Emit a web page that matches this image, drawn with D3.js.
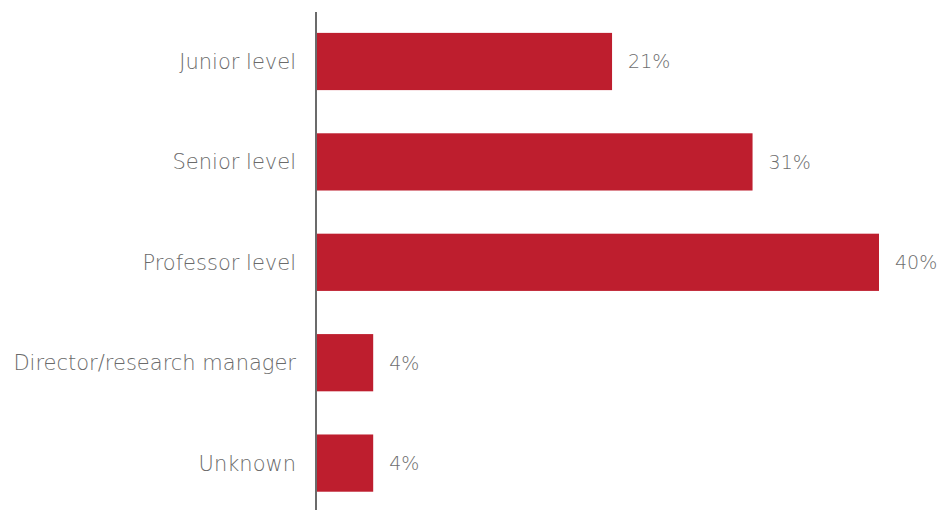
<!DOCTYPE html>
<html>
<head>
<meta charset="utf-8">
<script src="https://cdn.jsdelivr.net/npm/d3@7"></script>
<style>
  html, body { margin: 0; padding: 0; background: #ffffff; }
  svg { display: block; }
  text { font-family: "DejaVu Sans", sans-serif; font-weight: 200; }
</style>
</head>
<body>
<svg id="chart" width="938" height="510"></svg>
<script>
// Share of respondents by career level
const categories = ["Junior level", "Senior level", "Professor level", "Director/research manager", "Unknown"];
const values = [21, 31, 40, 4, 4];
const valueLabels = ["21%", "31%", "40%", "4%", "4%"];

const svg = d3.select("#chart");
const width = 938, height = 510;
const fontStack = '"DejaVu Sans", sans-serif';

const x = d3.scaleLinear().domain([0, 40]).range([317, 879]);

const y = d3.scaleBand()
  .domain(categories)
  .range([11.3, 513.3])
  .paddingInner(0.43)
  .paddingOuter(0.215);

// bars
svg.append("g")
  .selectAll("rect")
  .data(categories)
  .join("rect")
  .attr("x", x(0))
  .attr("y", d => y(d))
  .attr("width", (d, i) => x(values[i]) - x(0))
  .attr("height", y.bandwidth())
  .attr("fill", "#BE1E2E");

// value labels
svg.append("g")
  .selectAll("text")
  .data(categories)
  .join("text")
  .attr("x", (d, i) => x(values[i]) + 16)
  .attr("y", d => y(d) + y.bandwidth() / 2)
  .attr("dy", "0.36em")
  .attr("font-size", 19)
  .attr("fill", "#6e6e6e")
  .text((d, i) => valueLabels[i]);

// category axis
const axis = svg.append("g")
  .attr("transform", `translate(${x(0) - 1},0)`)
  .call(d3.axisLeft(y).tickSize(0).tickPadding(20));
axis.select(".domain").remove();
axis.selectAll("text")
  .attr("font-size", 21)
  .attr("fill", "#6a6a6a")
  .attr("dy", "0.36em")
  .style("font-family", fontStack)
  .style("font-weight", 200);

svg.append("line")
  .attr("x1", 316).attr("x2", 316)
  .attr("y1", 12).attr("y2", height)
  .attr("stroke", "#6b6b6b")
  .attr("stroke-width", 2);
</script>
</body>
</html>
